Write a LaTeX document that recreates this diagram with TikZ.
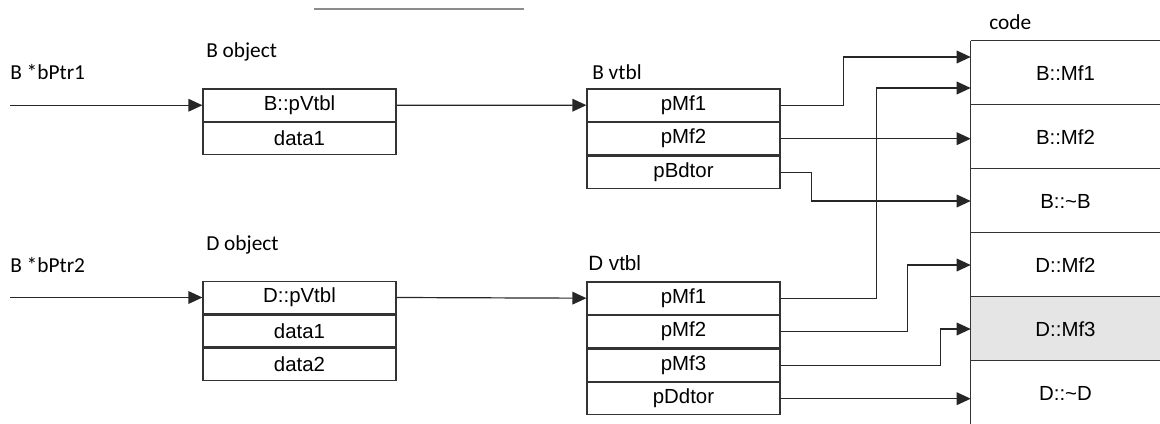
\documentclass[tikz,border=0pt]{standalone}
\usepackage{fontspec}
\setmainfont{Liberation Sans}
\newfontfamily\lblfont{Carlito}
\usetikzlibrary{arrows.meta,calc}
\tikzset{
  cell/.style={draw=black!80, line width=0.9pt, minimum width=193*0.75pt, inner sep=0pt, font=\fontsize{15.3}{18}\selectfont},
  codecell/.style={minimum width=189*0.75pt, minimum height=64*0.75pt, inner sep=0pt, font=\fontsize{15.3}{18}\selectfont},
  lbl/.style={anchor=west, inner sep=0pt, font=\lblfont\fontsize{16}{18}\selectfont},
  arr/.style={draw=black!85, line width=0.9pt, -{Triangle[length=10.5pt,width=9.5pt]}},
  rule/.style={draw=black!80, line width=0.9pt}
}
\begin{document}
\begin{tikzpicture}[x=0.75pt,y=-0.75pt]
\useasboundingbox (0,0) rectangle (1160,424);
% top thin line
\draw[black!45, line width=1pt] (314,9) -- (524,9);

% labels
\node[lbl] (l1) at (10,72) {B *bPtr1};
\node[lbl] (l2) at (206,52) {B object};
\node[lbl] (l3) at (592,72) {B vtbl};
\node[lbl] (l4) at (989,22) {code};
\node[lbl] (l5) at (206,245) {D object};
\node[lbl] (l6) at (10,265) {B *bPtr2};
\node[anchor=west, inner sep=0pt, font=\fontsize{15.5}{18}\selectfont] (l7) at (588,263) {D vtbl};

% B object
\node[cell, minimum height=32.5*0.75pt] (bo1) at (299.5,105.25) {B::pVtbl};
\node[cell, minimum height=32*0.75pt, anchor=north] (bo2) at (bo1.south) {data1};

% B vtbl
\node[cell, minimum height=32.3*0.75pt] (bv1) at (683.5,105.2) {pMf1};
\node[cell, minimum height=32.3*0.75pt, anchor=north] (bv2) at (bv1.south) {pMf2};
\node[cell, minimum height=32.3*0.75pt, anchor=north] (bv3) at (bv2.south) {pBdtor};

% D object
\node[cell, minimum height=32.5*0.75pt] (do1) at (299.5,297.5) {D::pVtbl};
\node[cell, minimum height=32*0.75pt, anchor=north] (do2) at (do1.south) {data1};
\node[cell, minimum height=32*0.75pt, anchor=north] (do3) at (do2.south) {data2};

% D vtbl
\node[cell, minimum height=32.3*0.75pt] (dv1) at (683.5,298.2) {pMf1};
\node[cell, minimum height=32.3*0.75pt, anchor=north] (dv2) at (dv1.south) {pMf2};
\node[cell, minimum height=32.3*0.75pt, anchor=north] (dv3) at (dv2.south) {pMf3};
\node[cell, minimum height=32.3*0.75pt, anchor=north] (dv4) at (dv3.south) {pDdtor};

% code cells
\node[codecell] (c1) at (1065.5,73) {B::Mf1};
\node[codecell] (c2) at (1065.5,137) {B::Mf2};
\node[codecell] (c3) at (1065.5,201) {B::\textasciitilde B};
\node[codecell] (c4) at (1065.5,265) {D::Mf2};
\node[codecell, fill=black!10] (c5) at (1065.5,329) {D::Mf3};
\node[codecell] (c6) at (1065.5,393) {D::\textasciitilde D};
\draw[rule] (c1.north west) -- (c1.north east);
\draw[rule] (c2.north west) -- (c2.north east);
\draw[rule] (c3.north west) -- (c3.north east);
\draw[rule] (c4.north west) -- (c4.north east);
\draw[rule] (c5.north west) -- (c5.north east);
\draw[rule] (c6.north west) -- (c6.north east);
\draw[rule] (c1.north west) -- (c6.south west);

% pointers
\coordinate (s1) at (10,105.25);
\coordinate (s2) at (10,297.5);
\draw[arr] (s1) -- (bo1.west);
\draw[arr] (s2) -- (do1.west);
\draw[arr] (bo1.east) -- (bv1.west);
\draw[arr] (do1.east) -- (dv1.west);

% B vtbl to code
\draw[arr] (bv1.east) -- ++(63,0) |- ($(c1.west)+(0,-16)$);
\draw[arr] (bv2.east) -- (bv2.east -| c2.west);
\draw[arr] (bv3.east) -- ++(31,0) |- (c3.west);

% D vtbl to code
\draw[arr] (dv1.east) -- ++(96,0) |- ($(c1.west)+(0,15)$);
\draw[arr] (dv2.east) -- ++(127,0) |- (c4.west);
\draw[arr] (dv3.east) -- ++(160,0) |- (c5.west);
\draw[arr] (dv4.east) -- (dv4.east -| c6.west);
\end{tikzpicture}
\end{document}
